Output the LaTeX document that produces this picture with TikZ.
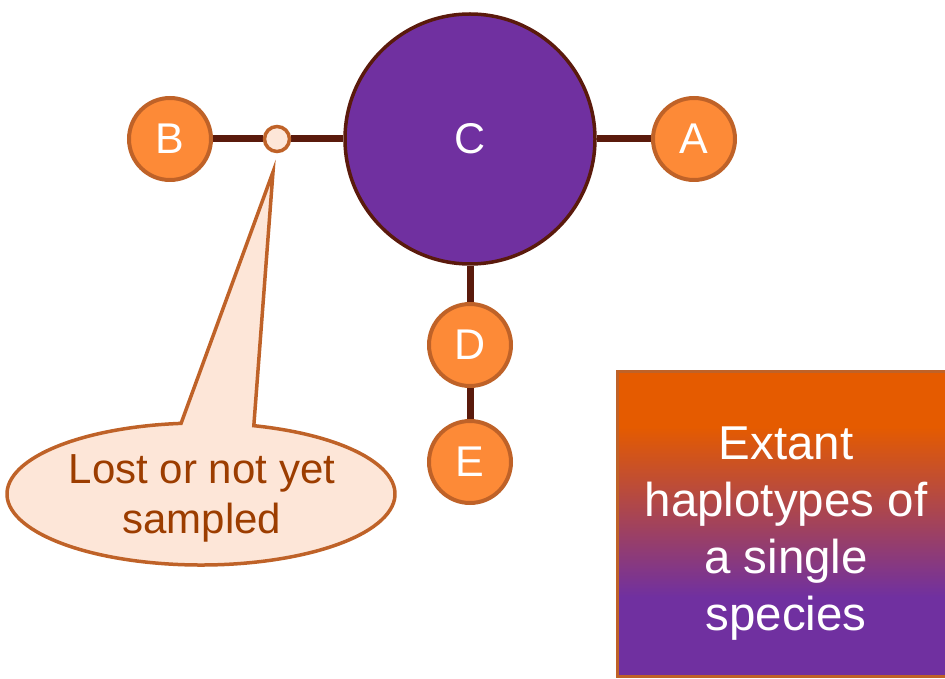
\documentclass[tikz,border=0pt]{standalone}
\usepackage{fontspec}
\setmainfont{Liberation Sans}
\usetikzlibrary{backgrounds,calc}

\definecolor{hapOrange}{HTML}{FD8A37}
\definecolor{hapRim}{HTML}{BF6228}
\definecolor{hapPurple}{HTML}{7030A0}
\definecolor{hapLink}{HTML}{5A1A0C}
\definecolor{calloutFill}{HTML}{FDE6D8}
\definecolor{calloutText}{HTML}{9C3D00}
\definecolor{boxTop}{HTML}{E55B00}

% purple at the bottom fading into orange at the top
\pgfdeclareverticalshading{speciesfade}{100bp}{%
  color(0bp)=(hapPurple); color(38bp)=(hapPurple);
  color(66bp)=(boxTop); color(100bp)=(boxTop)}

\tikzset{
  hap/.style={circle, draw=hapRim, line width=4pt, fill=hapOrange, text=white,
    minimum size=82pt, inner sep=0pt, font=\fontsize{43}{43}\selectfont},
  bighap/.style={circle, draw=hapLink, line width=3.5pt, fill=hapPurple, text=white,
    minimum size=250pt, inner sep=0pt, font=\fontsize{43}{43}\selectfont},
  missing/.style={circle, draw=hapRim, line width=3.5pt, fill=calloutFill,
    minimum size=25pt, inner sep=0pt},
  link/.style={draw=hapLink, line width=7pt},
  callout/.style={draw=hapRim, line width=3.5pt, fill=calloutFill, line join=miter},
  speciesbox/.style={draw=hapRim, line width=3pt, shading=speciesfade},
}

\begin{document}
\begin{tikzpicture}[x=1pt, y=1pt]
  \useasboundingbox (0,0) rectangle (945,678);

  % haplotype network
  \node[bighap] (C) at (470,539) {C};
  \node[hap] (B) at (170,539) {B};
  \node[hap] (A) at (694,539) {A};
  \node[hap] (D) at (470,333) {D};
  \node[hap] (E) at (470,216) {E};
  \node[missing] (lost) at (277,539) {};

  \begin{scope}[on background layer]
    \draw[link] (B) -- (lost);
    \draw[link] (lost) -- (C);
    \draw[link] (C) -- (A);
    \draw[link] (C) -- (D);
    \draw[link] (D) -- (E);
  \end{scope}

  % speech bubble pointing at the missing haplotype
  \coordinate (tip) at (273,506);
  \path[callout]
    ($(201,184)+(95.9:194pt and 71pt)$) -- (tip)
    -- ($(201,184)+(74.2:194pt and 71pt)$)
    arc[start angle=74.2, end angle=-264.1, x radius=194pt, y radius=71pt]
    -- cycle;
  \node[text=calloutText, align=center, font=\fontsize{42}{50}\selectfont]
    (lostlabel) at (202,180) {Lost or not yet\\sampled};

  % legend box
  \path[speciesbox] (617,306) rectangle (950,2);
  \node[text=white, align=center, font=\fontsize{47.5}{57}\selectfont]
    (legend) at (786,144) {Extant\\haplotypes of\\a single\\species};
\end{tikzpicture}
\end{document}
